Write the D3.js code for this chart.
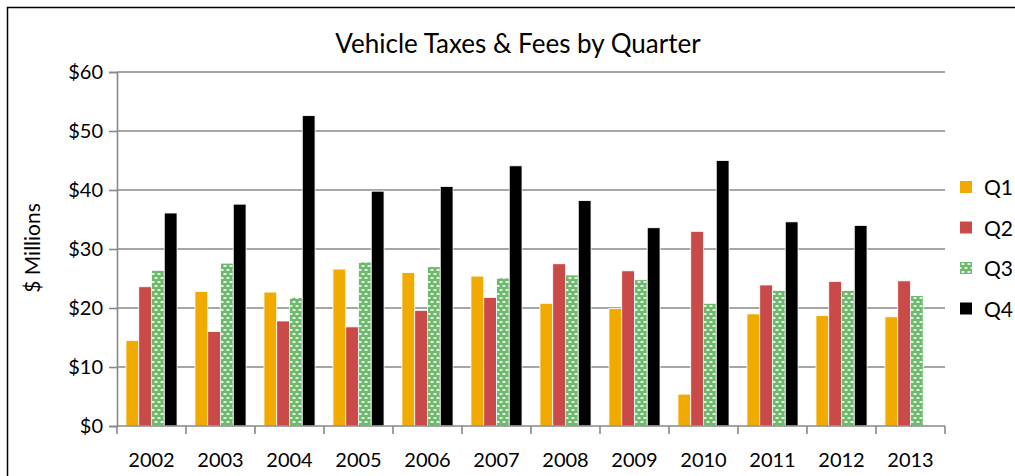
<!DOCTYPE html>
<html>
<head>
<meta charset="utf-8">
<script src="https://cdn.jsdelivr.net/npm/d3@7"></script>
<style>
  body { margin: 0; background: #fff; }
  svg { font-family: Lato, "Open Sans", sans-serif; }
</style>
</head>
<body>
<svg id="chart" width="1015" height="476"></svg>
<script>
// values, $ millions
var years = ["2002","2003","2004","2005","2006","2007","2008","2009","2010","2011","2012","2013"];
var quarters = ["Q1","Q2","Q3","Q4"];
var q1 = [14.5, 22.8, 22.7, 26.6, 26.0, 25.4, 20.8, 19.9, 5.4, 19.0, 18.7, 18.5];
var q2 = [23.6, 16.0, 17.8, 16.8, 19.6, 21.8, 27.5, 26.3, 33.0, 23.9, 24.5, 24.6];
var q3 = [26.4, 27.6, 21.8, 27.8, 27.0, 25.1, 25.6, 24.8, 20.8, 23.0, 23.0, 22.1];
var q4 = [36.1, 37.6, 52.6, 39.8, 40.6, 44.1, 38.2, 33.6, 45.0, 34.6, 34.0, null];
var yTicks = [0, 10, 20, 30, 40, 50, 60];

var series = [q1, q2, q3, q4];
var colors = ["#f0aa00", "#c94a48", "url(#dots)", "#000000"];

var svg = d3.select("#chart");

// Q3 fill: green with little white dashes
var defs = svg.append("defs");
var pat = defs.append("pattern")
    .attr("id", "dots")
    .attr("patternUnits", "userSpaceOnUse")
    .attr("width", 6).attr("height", 8);
pat.append("rect").attr("width", 6).attr("height", 8).attr("fill", "#6dba6d");
pat.append("rect").attr("x", 1.5).attr("y", 1.2).attr("width", 3).attr("height", 1.6).attr("fill", "#fff");
pat.append("rect").attr("x", -1.5).attr("y", 5.2).attr("width", 3).attr("height", 1.6).attr("fill", "#fff");
pat.append("rect").attr("x", 4.5).attr("y", 5.2).attr("width", 3).attr("height", 1.6).attr("fill", "#fff");

// frame
svg.append("rect")
    .attr("x", 7.5).attr("y", 7.5)
    .attr("width", 1020).attr("height", 480)
    .attr("fill", "none").attr("stroke", "#000").attr("stroke-width", 1.5);

var pLeft = 117, pRight = 945, pTop = 72, pBottom = 426;

var x = d3.scaleBand().domain(years).range([pLeft, pRight]).paddingInner(0.26).paddingOuter(0.13);
var xs = d3.scaleBand().domain(quarters).range([0, x.bandwidth()]);
var y = d3.scaleLinear().domain([0, 60]).range([pBottom, pTop]);

// gridlines
svg.append("g").selectAll("line")
    .data(yTicks.filter(function(d){ return d > 0; }))
    .enter().append("line")
    .attr("x1", pLeft).attr("x2", pRight)
    .attr("y1", function(d){ return y(d); }).attr("y2", function(d){ return y(d); })
    .attr("stroke", "#888").attr("stroke-width", 1.6);

// y axis
var yAxis = svg.append("g")
    .attr("transform", "translate(" + pLeft + ",0)")
    .call(d3.axisLeft(y).tickValues(yTicks).tickSize(8).tickPadding(6)
      .tickFormat(function(d){ return "$" + d; }));
yAxis.select(".domain").attr("stroke", "#888").attr("stroke-width", 1.6);
yAxis.selectAll(".tick line").attr("stroke", "#888").attr("stroke-width", 1.6);
yAxis.selectAll("text").attr("font-size", 20).attr("fill", "#000").attr("font-family", "Lato, sans-serif");

// bars
svg.append("g").selectAll("g")
    .data(series)
    .enter().append("g")
    .attr("fill", function(d, i){ return colors[i]; })
    .each(function(vals, i){
      d3.select(this).selectAll("rect")
        .data(vals.map(function(v, j){ return {year: years[j], value: v}; })
                  .filter(function(d){ return d.value != null; }))
        .enter().append("rect")
        .attr("x", function(d){ return x(d.year) + xs(quarters[i]); })
        .attr("width", xs.bandwidth())
        .attr("y", function(d){ return y(d.value); })
        .attr("height", function(d){ return y(0) - y(d.value); })
        .attr("stroke", "#fff").attr("stroke-width", 0.8);
    });

// x axis
var xEdges = years.map(function(d){ return x(d) - x.step() * x.paddingInner() / 2; });
xEdges.push(pRight);
var xAxis = svg.append("g");
xAxis.append("line")
    .attr("x1", pLeft).attr("x2", pRight).attr("y1", pBottom).attr("y2", pBottom)
    .attr("stroke", "#888").attr("stroke-width", 1.6);
xAxis.selectAll(".tk").data(xEdges).enter().append("line")
    .attr("x1", function(d){ return d; }).attr("x2", function(d){ return d; })
    .attr("y1", pBottom).attr("y2", pBottom + 8)
    .attr("stroke", "#888").attr("stroke-width", 1.6);
xAxis.selectAll("text").data(years).enter().append("text")
    .attr("x", function(d){ return x(d) + x.bandwidth() / 2; })
    .attr("y", 467)
    .attr("text-anchor", "middle")
    .attr("font-size", 20)
    .text(function(d){ return d; });

// title
svg.append("text")
    .attr("x", 518).attr("y", 53)
    .attr("text-anchor", "middle")
    .attr("font-size", 26)
    .text("Vehicle Taxes & Fees by Quarter");

// y label
svg.append("text")
    .attr("transform", "translate(40,248) rotate(-90)")
    .attr("text-anchor", "middle")
    .attr("font-size", 21)
    .text("$ Millions");

// legend
var legend = svg.append("g").selectAll("g")
    .data(quarters)
    .enter().append("g")
    .attr("transform", function(d, i){ return "translate(960," + (181 + i * 40.5) + ")"; });
legend.append("rect")
    .attr("width", 12).attr("height", 12)
    .attr("fill", function(d, i){ return colors[i]; });
legend.append("text")
    .attr("x", 24).attr("y", 14)
    .attr("font-size", 21)
    .text(function(d){ return d; });
</script>
</body>
</html>
